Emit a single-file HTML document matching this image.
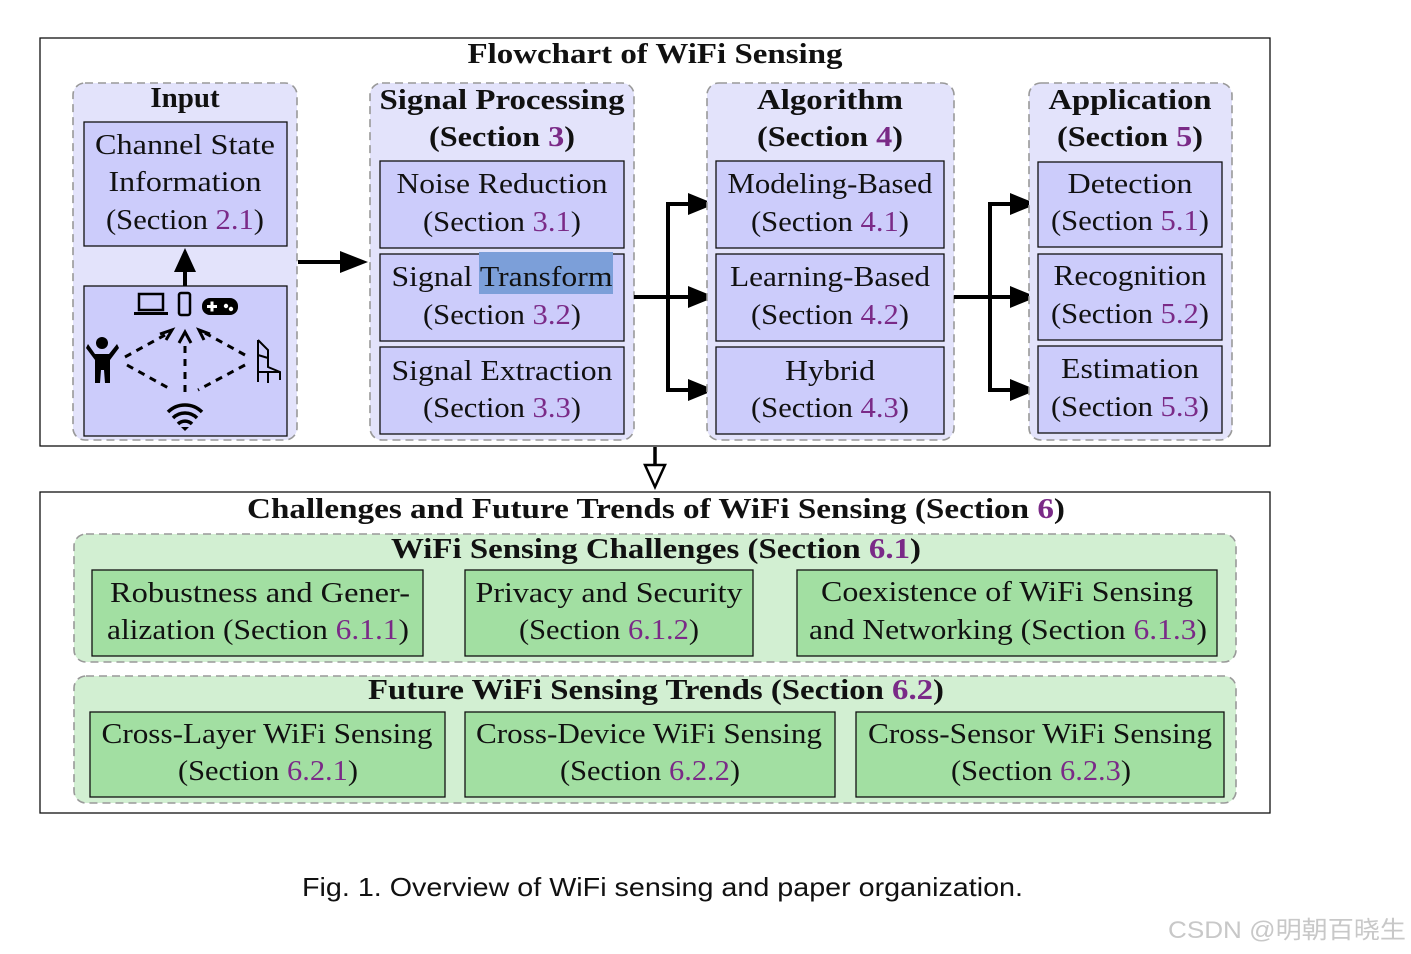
<!DOCTYPE html>
<html><head><meta charset="utf-8"><style>
html,body{margin:0;padding:0;background:#fff;}
svg{display:block;}
text{font-family:"Liberation Serif",serif;font-size:29px;fill:#111;}
.b{font-weight:bold;}
.p{fill:#7a2a87;}
.grp{fill:#e3e3fb;stroke:#999;stroke-width:1.6;stroke-dasharray:8 5;}
.bx{fill:#ccccfb;stroke:#111;stroke-width:1.3;}
.ggrp{fill:#d2efd2;stroke:#999;stroke-width:1.6;stroke-dasharray:8 5;}
.gbx{fill:#a2dfa2;stroke:#111;stroke-width:1.3;}
.ln{stroke:#000;stroke-width:4;fill:none;}
</style></head><body>
<svg width="1411" height="954" viewBox="0 0 1411 954" xmlns="http://www.w3.org/2000/svg">
<defs>
<marker id="ah" markerWidth="10" markerHeight="10" refX="8" refY="5" orient="auto" markerUnits="userSpaceOnUse" viewBox="0 0 10 10"><path d="M0,0 L10,5 L0,10z" fill="#000"/></marker>
</defs>
<!-- top container -->
<rect x="40" y="38" width="1230" height="408" fill="#fff" stroke="#111" stroke-width="1.3"/>
<text class="b" x="655" y="63" text-anchor="middle" textLength="375" lengthAdjust="spacingAndGlyphs">Flowchart of WiFi Sensing</text>

<!-- Input -->
<rect class="grp" x="73" y="83" width="224" height="357" rx="12"/>
<text class="b" x="185" y="107" text-anchor="middle">Input</text>
<rect class="bx" x="84" y="122" width="203" height="124"/>
<text x="185" y="154" text-anchor="middle" textLength="180" lengthAdjust="spacingAndGlyphs">Channel State</text>
<text x="185" y="191" text-anchor="middle" textLength="153" lengthAdjust="spacingAndGlyphs">Information</text>
<text x="185" y="229" text-anchor="middle" textLength="158" lengthAdjust="spacingAndGlyphs">(Section <tspan class="p">2.1</tspan>)</text>
<rect class="bx" x="84" y="286" width="203" height="150"/>
<!-- up arrow -->
<line x1="185" y1="286" x2="185" y2="268" stroke="#000" stroke-width="4"/>
<path d="M174,272 L185,248 L196,272z" fill="#000"/>
<!-- icons -->
<rect x="139" y="294" width="24" height="16" fill="none" stroke="#000" stroke-width="2.5"/>
<rect x="134" y="312" width="34" height="3" fill="#000"/>
<rect x="179" y="293" width="11" height="22" rx="2" fill="none" stroke="#000" stroke-width="2.5"/>
<rect x="202" y="298" width="36" height="17" rx="8" fill="#000"/>
<rect x="207" y="305" width="10" height="3" fill="#fff"/><rect x="210.5" y="301.5" width="3" height="10" fill="#fff"/>
<circle cx="226" cy="306" r="2.2" fill="#fff"/><circle cx="231" cy="309" r="2.2" fill="#fff"/>
<!-- person -->
<circle cx="102" cy="343" r="6" fill="#000"/>
<path d="M88,344 L95,354 L109,354 L117,344 L119,348 L110,360 L110,383 L105,383 L104,370 L101,370 L100,383 L95,383 L95,360 L86,348z" fill="#000"/>
<!-- chair -->
<path d="M258,340 L268,350 L268,367 L280,372 L280,380 M258,340 L258,372 L280,372 M258,372 L258,382 M268,372 L268,383 M258,355 L268,358" stroke="#000" stroke-width="2" fill="none"/>
<!-- dashed lines -->
<g stroke="#000" stroke-width="3" stroke-dasharray="7 6" fill="none">
<path d="M125,357 L165,335"/>
<path d="M127,365 L172,390"/>
<path d="M245,355 L205,333"/>
<path d="M245,365 L198,390"/>
<path d="M185,392 L185,340"/>
</g>
<path d="M160,334 L172,330 L166,340" stroke="#000" stroke-width="3" fill="none"/>
<path d="M210,334 L199,330 L204,340" stroke="#000" stroke-width="3" fill="none"/>
<path d="M179,343 L185,332 L191,343" stroke="#000" stroke-width="3" fill="none"/>
<!-- wifi -->
<g fill="none" stroke="#000" stroke-width="3.5">
<path d="M168,412 A24,24 0 0 1 202,412"/>
<path d="M173,418 A17,17 0 0 1 197,418"/>
<path d="M178,424 A10,10 0 0 1 192,424"/>
</g>
<path d="M181,427 L185,431 L189,427z" fill="#000"/>

<!-- arrow input -> sp -->
<line x1="298" y1="262" x2="345" y2="262" class="ln"/>
<path d="M340,251 L368,262 L340,273z" fill="#000"/>

<!-- Signal Processing -->
<rect class="grp" x="370" y="83" width="264" height="357" rx="12"/>
<text class="b" x="502" y="109" text-anchor="middle" textLength="245" lengthAdjust="spacingAndGlyphs">Signal Processing</text>
<text class="b" x="502" y="146" text-anchor="middle" textLength="146" lengthAdjust="spacingAndGlyphs">(Section <tspan class="p">3</tspan>)</text>
<rect class="bx" x="380" y="161" width="244" height="87"/>
<text x="502" y="193" text-anchor="middle" textLength="211" lengthAdjust="spacingAndGlyphs">Noise Reduction</text>
<text x="502" y="231" text-anchor="middle" textLength="158" lengthAdjust="spacingAndGlyphs">(Section <tspan class="p">3.1</tspan>)</text>
<rect class="bx" x="380" y="254" width="244" height="87"/>
<rect x="479" y="252" width="134" height="42" fill="#7c9fd9"/>
<text x="502" y="286" text-anchor="middle" textLength="221" lengthAdjust="spacingAndGlyphs">Signal Transform</text>
<text x="502" y="324" text-anchor="middle" textLength="158" lengthAdjust="spacingAndGlyphs">(Section <tspan class="p">3.2</tspan>)</text>
<rect class="bx" x="380" y="347" width="244" height="87"/>
<text x="502" y="380" text-anchor="middle" textLength="221" lengthAdjust="spacingAndGlyphs">Signal Extraction</text>
<text x="502" y="417" text-anchor="middle" textLength="158" lengthAdjust="spacingAndGlyphs">(Section <tspan class="p">3.3</tspan>)</text>

<!-- arrows sp -> alg -->
<path d="M634,297 L690,297 M668,297 L668,204 L690,204 M668,297 L668,390 L690,390" class="ln"/>
<path d="M688,193 L715,204 L688,215z M688,286 L715,297 L688,308z M688,379 L715,390 L688,401z" fill="#000"/>

<!-- Algorithm -->
<rect class="grp" x="707" y="83" width="247" height="357" rx="12"/>
<text class="b" x="830" y="109" text-anchor="middle" textLength="146" lengthAdjust="spacingAndGlyphs">Algorithm</text>
<text class="b" x="830" y="146" text-anchor="middle" textLength="146" lengthAdjust="spacingAndGlyphs">(Section <tspan class="p">4</tspan>)</text>
<rect class="bx" x="716" y="161" width="228" height="87"/>
<text x="830" y="193" text-anchor="middle" textLength="205" lengthAdjust="spacingAndGlyphs">Modeling-Based</text>
<text x="830" y="231" text-anchor="middle" textLength="158" lengthAdjust="spacingAndGlyphs">(Section <tspan class="p">4.1</tspan>)</text>
<rect class="bx" x="716" y="254" width="228" height="87"/>
<text x="830" y="286" text-anchor="middle" textLength="200" lengthAdjust="spacingAndGlyphs">Learning-Based</text>
<text x="830" y="324" text-anchor="middle" textLength="158" lengthAdjust="spacingAndGlyphs">(Section <tspan class="p">4.2</tspan>)</text>
<rect class="bx" x="716" y="347" width="228" height="87"/>
<text x="830" y="380" text-anchor="middle" textLength="90" lengthAdjust="spacingAndGlyphs">Hybrid</text>
<text x="830" y="417" text-anchor="middle" textLength="158" lengthAdjust="spacingAndGlyphs">(Section <tspan class="p">4.3</tspan>)</text>

<!-- arrows alg -> app -->
<path d="M954,297 L1012,297 M990,297 L990,204 L1012,204 M990,297 L990,390 L1012,390" class="ln"/>
<path d="M1010,193 L1037,204 L1010,215z M1010,286 L1037,297 L1010,308z M1010,379 L1037,390 L1010,401z" fill="#000"/>

<!-- Application -->
<rect class="grp" x="1029" y="83" width="203" height="357" rx="12"/>
<text class="b" x="1130" y="109" text-anchor="middle" textLength="163" lengthAdjust="spacingAndGlyphs">Application</text>
<text class="b" x="1130" y="146" text-anchor="middle" textLength="146" lengthAdjust="spacingAndGlyphs">(Section <tspan class="p">5</tspan>)</text>
<rect class="bx" x="1038" y="162" width="184" height="85"/>
<text x="1130" y="193" text-anchor="middle" textLength="125" lengthAdjust="spacingAndGlyphs">Detection</text>
<text x="1130" y="230" text-anchor="middle" textLength="158" lengthAdjust="spacingAndGlyphs">(Section <tspan class="p">5.1</tspan>)</text>
<rect class="bx" x="1038" y="254" width="184" height="86"/>
<text x="1130" y="285" text-anchor="middle" textLength="153" lengthAdjust="spacingAndGlyphs">Recognition</text>
<text x="1130" y="323" text-anchor="middle" textLength="158" lengthAdjust="spacingAndGlyphs">(Section <tspan class="p">5.2</tspan>)</text>
<rect class="bx" x="1038" y="346" width="184" height="87"/>
<text x="1130" y="378" text-anchor="middle" textLength="138" lengthAdjust="spacingAndGlyphs">Estimation</text>
<text x="1130" y="416" text-anchor="middle" textLength="158" lengthAdjust="spacingAndGlyphs">(Section <tspan class="p">5.3</tspan>)</text>

<!-- down arrow -->
<line x1="655" y1="447" x2="655" y2="466" stroke="#000" stroke-width="3.5"/>
<path d="M645,465 L665,465 L655,487z" fill="#fff" stroke="#000" stroke-width="2.5"/>

<!-- bottom container -->
<rect x="40" y="492" width="1230" height="321" fill="#fff" stroke="#111" stroke-width="1.3"/>
<text class="b" x="656" y="518" text-anchor="middle" textLength="818" lengthAdjust="spacingAndGlyphs">Challenges and Future Trends of WiFi Sensing (Section <tspan class="p">6</tspan>)</text>

<rect class="ggrp" x="74" y="534" width="1162" height="128" rx="12"/>
<text class="b" x="656" y="558" text-anchor="middle" textLength="530" lengthAdjust="spacingAndGlyphs">WiFi Sensing Challenges (Section <tspan class="p">6.1</tspan>)</text>
<rect class="gbx" x="92" y="570" width="331" height="86"/>
<text x="260" y="602" text-anchor="middle" textLength="300" lengthAdjust="spacingAndGlyphs">Robustness and Gener-</text>
<text x="258" y="639" text-anchor="middle" textLength="302" lengthAdjust="spacingAndGlyphs">alization (Section <tspan class="p">6.1.1</tspan>)</text>
<rect class="gbx" x="465" y="570" width="288" height="86"/>
<text x="609" y="602" text-anchor="middle" textLength="267" lengthAdjust="spacingAndGlyphs">Privacy and Security</text>
<text x="609" y="639" text-anchor="middle" textLength="180" lengthAdjust="spacingAndGlyphs">(Section <tspan class="p">6.1.2</tspan>)</text>
<rect class="gbx" x="797" y="570" width="420" height="86"/>
<text x="1007" y="601" text-anchor="middle" textLength="372" lengthAdjust="spacingAndGlyphs">Coexistence of WiFi Sensing</text>
<text x="1008" y="639" text-anchor="middle" textLength="398" lengthAdjust="spacingAndGlyphs">and Networking (Section <tspan class="p">6.1.3</tspan>)</text>

<rect class="ggrp" x="74" y="676" width="1162" height="127" rx="12"/>
<text class="b" x="656" y="699" text-anchor="middle" textLength="576" lengthAdjust="spacingAndGlyphs">Future WiFi Sensing Trends (Section <tspan class="p">6.2</tspan>)</text>
<rect class="gbx" x="90" y="712" width="355" height="85"/>
<text x="267" y="743" text-anchor="middle" textLength="331" lengthAdjust="spacingAndGlyphs">Cross-Layer WiFi Sensing</text>
<text x="268" y="780" text-anchor="middle" textLength="180" lengthAdjust="spacingAndGlyphs">(Section <tspan class="p">6.2.1</tspan>)</text>
<rect class="gbx" x="465" y="712" width="370" height="85"/>
<text x="649" y="743" text-anchor="middle" textLength="346" lengthAdjust="spacingAndGlyphs">Cross-Device WiFi Sensing</text>
<text x="650" y="780" text-anchor="middle" textLength="180" lengthAdjust="spacingAndGlyphs">(Section <tspan class="p">6.2.2</tspan>)</text>
<rect class="gbx" x="856" y="712" width="368" height="85"/>
<text x="1040" y="743" text-anchor="middle" textLength="344" lengthAdjust="spacingAndGlyphs">Cross-Sensor WiFi Sensing</text>
<text x="1041" y="780" text-anchor="middle" textLength="180" lengthAdjust="spacingAndGlyphs">(Section <tspan class="p">6.2.3</tspan>)</text>

<!-- caption -->
<text x="302" y="896" style="font-family:'Liberation Sans',sans-serif;font-size:26px" textLength="721" lengthAdjust="spacingAndGlyphs">Fig. 1.  Overview of WiFi sensing and paper organization.</text>
<text x="1168" y="938" style="font-family:'Liberation Sans','Noto Sans CJK SC',sans-serif;font-size:24px;fill:#c8c8c8" textLength="238" lengthAdjust="spacingAndGlyphs">CSDN @明朝百晓生</text>
</svg>
</body></html>
